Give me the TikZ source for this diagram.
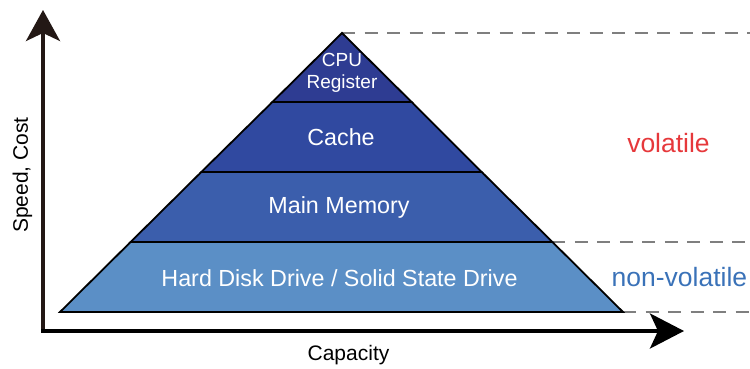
\documentclass[tikz,border=0pt]{standalone}
\usepackage{fontspec}
\setmainfont{Liberation Sans}
\usetikzlibrary{arrows.meta}
\definecolor{lvA}{HTML}{2E3C92}
\definecolor{lvB}{HTML}{3049A0}
\definecolor{lvC}{HTML}{3B5EAC}
\definecolor{lvD}{HTML}{5B8FC6}
\definecolor{volred}{HTML}{E6383B}
\definecolor{nvblue}{HTML}{3A72B8}
\definecolor{axisbrown}{HTML}{231815}
\definecolor{dashgray}{HTML}{7F7F7F}
\tikzset{
  level/.style={draw=black, line width=1.8pt, line join=miter},
  lvtext/.style={text=white, inner sep=0pt, font=\fontsize{23.3}{27}\selectfont},
  guide/.style={draw=dashgray, line width=2.6pt, dash pattern=on 13pt off 9.5pt},
  axisline/.style={line width=3.6pt},
}
\begin{document}
\begin{tikzpicture}[x=1pt,y=-1pt]
\useasboundingbox (0,0) rectangle (750,369);
% pyramid corner points
\coordinate (apex) at (342,33);
\coordinate (l1) at (272.4,102);
\coordinate (r1) at (411.6,102);
\coordinate (l2) at (201.3,172);
\coordinate (r2) at (481.7,172);
\coordinate (l3) at (130.6,242);
\coordinate (r3) at (552.4,242);
\coordinate (bl) at (60,312);
\coordinate (br) at (623,312);
% dashed guides
\coordinate (g1) at (750,33);
\coordinate (g2) at (750,242);
\coordinate (g3) at (750,312);
\draw[guide] (apex) -- (g1);
\draw[guide] (r3) -- (g2);
\draw[guide] (br) -- (g3);
% levels
\draw[level, fill=lvD] (l3) -- (r3) -- (br) -- (bl) -- cycle;
\draw[level, fill=lvC] (l2) -- (r2) -- (r3) -- (l3) -- cycle;
\draw[level, fill=lvB] (l1) -- (r1) -- (r2) -- (l2) -- cycle;
\draw[level, fill=lvA] (apex) -- (r1) -- (l1) -- cycle;
% level labels
\node[lvtext, align=center, font=\fontsize{19}{22}\selectfont] (cpu) at (342,73) {CPU\\Register};
\node[lvtext] (cache) at (341,137) {Cache};
\node[lvtext] (mem) at (339,207) {Main Memory};
\node[lvtext] (hdd) at (339.5,278) {Hard Disk Drive / Solid State Drive};
% side labels
\node[text=volred, inner sep=0pt, font=\fontsize{26.5}{30}\selectfont] (vol) at (668.5,143) {volatile};
\node[text=nvblue, inner sep=0pt, font=\fontsize{26.5}{30}\selectfont, anchor=west] (nvol) at (611.5,277) {non-volatile};
% axes
\coordinate (origin) at (43,331);
\coordinate (ytip) at (43,10);
\coordinate (xtip) at (684,331);
\draw[axisline, draw=axisbrown, -{Stealth[length=31pt,width=34pt,inset=8pt]}] (43,332.8) -- (ytip);
\draw[axisline, draw=black, -{Stealth[length=34pt,width=35pt,inset=8pt]}] (41.2,331) -- (xtip);
\node[inner sep=0pt, font=\fontsize{21}{25}\selectfont] (cap) at (348.5,355) {Capacity};
\node[inner sep=0pt, rotate=90, font=\fontsize{21}{25}\selectfont] (speed) at (22.5,175) {Speed, Cost};
\end{tikzpicture}
\end{document}
